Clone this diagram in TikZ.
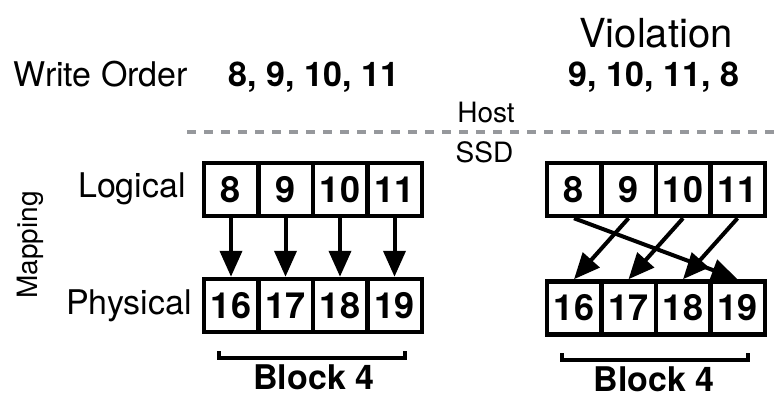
\documentclass[tikz,border=0pt]{standalone}
\usepackage{fontspec}
\setmainfont{TeX Gyre Heros}
\definecolor{hostgray}{RGB}{150,152,156}
\usetikzlibrary{arrows.meta,positioning}

\begin{document}
\begin{tikzpicture}[x=1pt,y=-1pt,
  cell/.style={draw,line width=4.5pt,minimum width=54.5pt,minimum height=53pt,
    inner sep=0pt,text height=25pt,text depth=0pt,font=\fontsize{36}{38}\selectfont\bfseries},
  lbl/.style={anchor=base,font=\fontsize{34}{36}\selectfont},
  seq/.style={anchor=base,font=\fontsize{34}{36}\selectfont\bfseries},
  note/.style={anchor=base,font=\fontsize{28}{30}\selectfont},
  maparr/.style={-{Triangle[length=26pt,width=22pt]},line width=4pt},
  bracket/.style={line width=3.5pt},
  divider/.style={hostgray,line width=4pt,dash pattern=on 9pt off 8pt}
]
  \useasboundingbox (0,0) rectangle (779,397);

  % Titles and write orders
  \node[lbl,font=\fontsize{40}{42}\selectfont] (viol) at (656,47) {Violation};
  \node[lbl] (worder) at (101,86) {Write Order};
  \node[seq] (okseq) at (314,86) {8, 9, 10, 11};
  \node[seq] (badseq) at (654,86) {9, 10, 11, 8};

  % Host / SSD boundary
  \node[note] (host) at (486,122) {Host};
  \coordinate (hs) at (187,132);
  \coordinate (he) at (779,132);
  \draw[divider] (hs) -- (he);
  \node[note] (ssd) at (484.5,162) {SSD};

  % Row labels
  \node[note,rotate=90] (mapping) at (37,245) {Mapping};
  \node[lbl] (logical) at (132,197) {Logical};
  \node[lbl] (physical) at (129,314) {Physical};

  % In-order mapping
  \node[cell] (l8) at (231,189.5) {8};
  \node[cell] (l9) at (285.5,189.5) {9};
  \node[cell] (l10) at (340,189.5) {10};
  \node[cell] (l11) at (394.5,189.5) {11};
  \node[cell] (p16) at (231,305.5) {16};
  \node[cell] (p17) at (285.5,305.5) {17};
  \node[cell] (p18) at (340,305.5) {18};
  \node[cell] (p19) at (394.5,305.5) {19};
  \draw[maparr] (l8.south) -- (p16.north);
  \draw[maparr] (l9.south) -- (p17.north);
  \draw[maparr] (l10.south) -- (p18.north);
  \draw[maparr] (l11.south) -- (p19.north);

  % Out-of-order mapping
  \node[cell] (r8) at (574,189.5) {8};
  \node[cell] (r9) at (628.5,189.5) {9};
  \node[cell] (r10) at (683,189.5) {10};
  \node[cell] (r11) at (737.5,189.5) {11};
  \node[cell] (q16) at (574,308) {16};
  \node[cell] (q17) at (628.5,308) {17};
  \node[cell] (q18) at (683,308) {18};
  \node[cell] (q19) at (737.5,308) {19};
  \draw[maparr] (r8.south) -- (q19.north);
  \draw[maparr] (r9.south) -- (q16.north);
  \draw[maparr] (r10.south) -- (q17.north);
  \draw[maparr] (r11.south) -- (q18.north);

  % Blocks
  \coordinate (b1l) at (219,351);
  \coordinate (b1r) at (405,351);
  \draw[bracket] (b1l) -- ++(0,7) -| (b1r);
  \node[seq] (blk1) at (314,389) {Block 4};
  \coordinate (b2l) at (562,353);
  \coordinate (b2r) at (748,353);
  \draw[bracket] (b2l) -- ++(0,7) -| (b2r);
  \node[seq] (blk2) at (654,391) {Block 4};
\end{tikzpicture}
\end{document}
